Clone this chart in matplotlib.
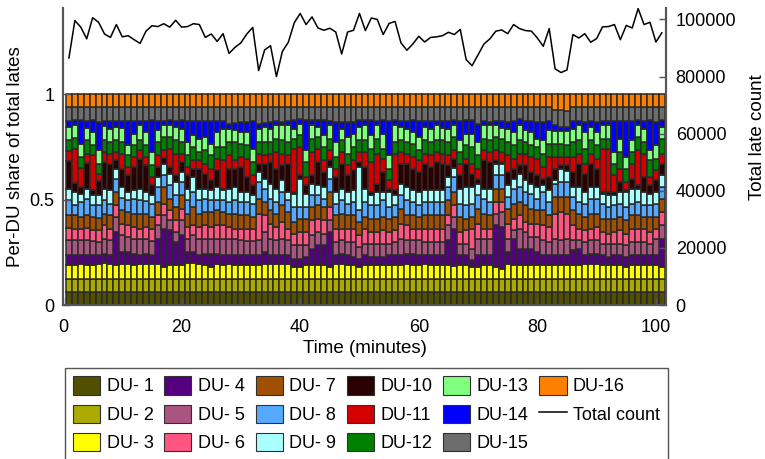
import numpy as np
import matplotlib
matplotlib.use("Agg")
import matplotlib.pyplot as plt
from matplotlib.patches import Patch
from matplotlib.lines import Line2D

plt.rcParams["font.family"] = ["Liberation Sans", "DejaVu Sans"]

minutes = list(range(1, 102))

# per-DU share of lates (relative units, normalised per minute below)
du1 = [39] * 101
du2 = [40] * 101
du3 = [42, 42, 45, 42, 42, 45, 48, 45, 42, 45, 45, 42, 45, 45, 45, 45, 35, 40, 40, 40,
       48, 48, 45, 40, 35, 45, 42, 45, 42, 40, 40, 40, 42, 45, 45, 45, 45, 45, 35, 35,
       40, 40, 42, 42, 35, 45, 45, 40, 40, 35, 40, 40, 40, 40, 40, 40, 40, 45, 40, 40,
       45, 40, 42, 42, 40, 38, 40, 40, 35, 35, 42, 42, 35, 30, 45, 40, 40, 40, 40, 40,
       40, 42, 42, 42, 40, 40, 40, 45, 45, 45, 40, 40, 40, 40, 35, 40, 40, 40, 40, 40, 35]
du4 = [30, 28, 27, 28, 28, 25, 27, 25, 98, 35, 35, 33, 27, 30, 25, 75, 115, 105, 70, 90,
       32, 32, 25, 35, 40, 30, 28, 25, 28, 30, 30, 30, 28, 35, 25, 25, 25, 25, 25, 25,
       25, 50, 58, 58, 105, 25, 30, 30, 25, 25, 30, 25, 25, 25, 30, 30, 30, 30, 35, 30,
       25, 30, 28, 28, 75, 112, 30, 30, 20, 35, 28, 28, 125, 125, 35, 80, 50, 50, 50, 40,
       30, 28, 28, 28, 30, 45, 50, 25, 30, 30, 30, 25, 30, 30, 30, 30, 30, 30, 30, 30, 85]
du5 = [45, 45, 43, 45, 42, 40, 45, 45, 45, 50, 45, 45, 48, 45, 42, 40, 40, 30, 30, 45,
       40, 50, 50, 45, 45, 45, 50, 50, 50, 45, 42, 42, 45, 60, 50, 45, 50, 45, 40, 40,
       35, 40, 40, 35, 35, 40, 40, 40, 45, 35, 35, 40, 40, 40, 35, 40, 50, 40, 40, 45,
       40, 40, 40, 40, 45, 35, 35, 35, 35, 50, 50, 50, 35, 45, 40, 25, 60, 50, 35, 45,
       45, 40, 50, 45, 50, 30, 25, 40, 40, 40, 35, 40, 35, 35, 35, 40, 40, 40, 35, 50, 40]
du6 = [35, 35, 35, 37, 33, 35, 40, 35, 35, 35, 35, 35, 30, 35, 36, 30, 35, 30, 35, 35,
       35, 30, 35, 40, 35, 40, 40, 35, 30, 35, 38, 38, 80, 50, 45, 40, 50, 35, 35, 40,
       40, 45, 40, 40, 40, 40, 35, 40, 40, 35, 45, 35, 35, 40, 35, 35, 45, 45, 35, 35,
       40, 40, 40, 40, 30, 35, 35, 40, 60, 45, 30, 30, 35, 30, 45, 35, 40, 30, 40, 40,
       45, 45, 75, 85, 75, 45, 35, 35, 35, 40, 35, 30, 35, 40, 35, 40, 40, 40, 35, 30, 40]
du7 = [40, 40, 35, 40, 40, 37, 35, 42, 40, 40, 40, 40, 45, 40, 37, 40, 50, 35, 40, 40,
       40, 55, 40, 40, 45, 45, 40, 40, 45, 40, 42, 35, 45, 40, 40, 40, 50, 50, 35, 40,
       40, 40, 40, 40, 45, 40, 45, 40, 42, 40, 35, 40, 40, 40, 40, 40, 45, 30, 40, 35,
       40, 40, 40, 40, 45, 40, 45, 35, 35, 45, 45, 40, 40, 40, 45, 45, 40, 50, 45, 40,
       45, 35, 50, 45, 50, 45, 45, 40, 45, 40, 40, 45, 40, 40, 40, 40, 40, 35, 45, 35, 40]
du8 = [43, 32, 45, 48, 35, 38, 40, 33, 40, 37, 35, 45, 40, 37, 40, 45, 35, 40, 35, 40,
       40, 45, 40, 40, 35, 30, 35, 35, 40, 40, 38, 40, 50, 40, 35, 35, 40, 35, 45, 35,
       35, 35, 30, 25, 40, 35, 40, 35, 38, 35, 45, 40, 40, 50, 35, 35, 40, 45, 40, 35,
       40, 40, 40, 40, 40, 45, 40, 40, 40, 40, 45, 40, 40, 40, 35, 45, 45, 40, 45, 35,
       55, 40, 40, 45, 45, 40, 35, 40, 45, 45, 45, 35, 40, 40, 40, 35, 40, 35, 35, 40, 35]
du9 = [35, 38, 25, 30, 30, 30, 35, 40, 30, 33, 25, 25, 35, 28, 25, 30, 35, 35, 40, 30,
       35, 45, 35, 30, 30, 40, 30, 40, 40, 30, 30, 25, 30, 30, 45, 40, 35, 25, 40, 85,
       40, 35, 30, 35, 35, 35, 35, 35, 35, 130, 40, 30, 40, 25, 45, 30, 35, 40, 35, 40,
       35, 35, 35, 35, 30, 27, 45, 55, 50, 35, 30, 40, 35, 35, 35, 30, 40, 35, 30, 35,
       20, 35, 10, 40, 32, 30, 45, 35, 35, 35, 30, 35, 30, 35, 45, 45, 40, 40, 35, 35, 35]
du10 = [82, 28, 20, 78, 15, 42, 80, 80, 25, 55, 50, 70, 90, 80, 30, 30, 17, 20, 20, 30,
        40, 25, 60, 45, 30, 50, 5, 58, 55, 75, 45, 30, 25, 45, 65, 60, 45, 85, 5, 10,
        25, 25, 70, 45, 20, 45, 75, 50, 60, 15, 65, 10, 25, 60, 10, 15, 60, 70, 65, 60,
        80, 70, 85, 80, 35, 28, 40, 70, 40, 15, 85, 80, 10, 5, 40, 30, 25, 45, 35, 35,
        20, 40, 35, 10, 18, 45, 70, 55, 70, 55, 5, 10, 10, 30, 5, 30, 10, 45, 25, 35, 35]
du11 = [30, 102, 57, 27, 105, 23, 30, 30, 25, 45, 25, 30, 25, 25, 25, 35, 23, 55, 65, 25,
        25, 25, 25, 30, 35, 35, 85, 42, 25, 30, 55, 30, 30, 25, 25, 50, 35, 25, 130, 85,
        25, 70, 40, 35, 30, 25, 35, 30, 30, 30, 45, 90, 90, 40, 25, 110, 35, 30, 35, 35,
        30, 35, 30, 30, 30, 25, 35, 15, 30, 30, 30, 30, 30, 30, 50, 30, 35, 35, 45, 50,
        35, 60, 35, 25, 25, 45, 30, 30, 30, 30, 130, 130, 50, 40, 25, 45, 105, 70, 25, 30, 30]
du12 = [33, 32, 33, 40, 30, 30, 35, 35, 35, 35, 35, 35, 30, 35, 37, 40, 40, 35, 40, 35,
        35, 40, 25, 40, 40, 35, 40, 40, 55, 40, 40, 40, 35, 40, 35, 40, 40, 40, 30, 35,
        45, 40, 35, 40, 35, 35, 35, 35, 40, 35, 35, 40, 45, 30, 35, 35, 35, 35, 40, 30,
        40, 40, 35, 40, 40, 40, 35, 40, 50, 40, 35, 35, 40, 40, 40, 40, 40, 35, 35, 35,
        40, 40, 40, 40, 37, 45, 40, 45, 40, 40, 30, 30, 35, 50, 40, 35, 40, 35, 50, 35, 45]
du13 = [40, 38, 40, 37, 40, 40, 42, 40, 40, 42, 30, 35, 45, 40, 38, 35, 35, 35, 40, 40,
        40, 35, 40, 40, 35, 45, 55, 40, 35, 35, 40, 40, 40, 45, 40, 40, 45, 50, 30, 35,
        35, 40, 30, 35, 40, 45, 35, 50, 40, 40, 45, 40, 40, 45, 40, 50, 40, 40, 35, 40,
        40, 40, 45, 37, 40, 35, 35, 35, 40, 40, 40, 45, 35, 32, 40, 40, 45, 35, 40, 25,
        40, 40, 37, 37, 40, 40, 45, 50, 40, 40, 40, 40, 35, 40, 35, 35, 35, 40, 30, 40, 35]
du14 = [17, 15, 70, 20, 35, 85, 15, 22, 17, 20, 72, 37, 12, 32, 95, 27, 12, 15, 17, 25,
        62, 42, 52, 47, 67, 32, 22, 15, 22, 30, 30, 82, 15, 12, 20, 12, 10, 12, 25, 15,
        90, 15, 20, 45, 12, 60, 20, 45, 35, 20, 15, 45, 12, 40, 102, 15, 17, 22, 35, 47,
        17, 22, 12, 20, 22, 15, 57, 40, 40, 55, 12, 10, 12, 20, 20, 32, 20, 27, 32, 50,
        55, 27, 18, 13, 13, 22, 12, 30, 17, 30, 12, 12, 92, 52, 107, 57, 15, 22, 90, 70, 20]
du15 = [43, 40, 40, 43, 40, 45, 43, 43, 43, 43, 43, 43, 43, 43, 40, 43, 43, 40, 43, 40,
        43, 43, 43, 43, 43, 43, 43, 50, 48, 45, 45, 43, 50, 48, 45, 43, 45, 43, 40, 35,
        40, 40, 40, 40, 43, 45, 45, 45, 45, 40, 40, 40, 43, 40, 43, 40, 43, 43, 40, 43,
        43, 43, 43, 43, 43, 40, 43, 40, 40, 50, 43, 45, 43, 43, 45, 43, 35, 43, 43, 45,
        45, 43, 45, 50, 47, 43, 43, 45, 43, 45, 43, 43, 43, 43, 43, 43, 40, 43, 40, 45, 40]
du16 = [39] * 82 + [49, 49, 52] + [39] * 16

total_count = [86500, 99600, 97300, 93200, 100600, 99000, 94900, 93700, 98200, 93900,
               94300, 92900, 91600, 95900, 97800, 97500, 98500, 97300, 99700, 97300,
               97500, 98500, 98200, 93700, 94900, 92300, 95000, 88100, 90200, 91800,
               94900, 97200, 82100, 89300, 90800, 80000, 88800, 92000, 98800, 102100,
               98200, 100900, 97000, 96200, 96900, 95600, 87900, 95600, 96200, 102100,
               96100, 100500, 100000, 94700, 98600, 99300, 91800, 89200, 91400, 94100,
               92100, 93700, 93900, 94300, 95500, 94700, 96500, 85900, 83800, 87600,
               91400, 93200, 95900, 96300, 95000, 98200, 96800, 96100, 95900, 93500,
               90600, 96800, 82700, 81400, 82300, 94700, 93500, 95000, 92000, 93300,
               97400, 97500, 98200, 92900, 97900, 97000, 103800, 98200, 99000, 92100, 95300]

du_labels = ["DU- %d" % i if i < 10 else "DU-%d" % i for i in range(1, 17)]
du_colors = ["#505000", "#aaaa00", "#ffff00", "#550080", "#aa5580", "#ff5580",
             "#a05000", "#55aaff", "#aaffff", "#2b0000", "#d40000", "#008000",
             "#80ff80", "#0000ff", "#6d6d6d", "#ff8000"]

raw = np.array([du1, du2, du3, du4, du5, du6, du7, du8, du9, du10,
                du11, du12, du13, du14, du15, du16], dtype=float)
share = raw / raw.sum(axis=0)

fig = plt.figure(figsize=(7.65, 4.59), dpi=100)
ax = fig.add_axes([63 / 765, 1 - 305 / 459, 603 / 765, 297 / 459])

bottom = np.zeros(len(minutes))
for k in range(16):
    ax.bar(minutes, share[k], 1.0, bottom=bottom, color=du_colors[k],
           edgecolor="#2a2a2a", linewidth=1.1)
    bottom += share[k]

ax.set_xlim(0, 101.7)
ax.set_ylim(0, 1.4076)
ax.set_xticks([0, 20, 40, 60, 80, 100])
ax.set_yticks([0, 0.5, 1])
ax.set_yticklabels(["0", "0.5", "1"])
ax.set_xlabel("Time (minutes)", fontsize=13.5, labelpad=3)
ax.set_ylabel("Per-DU share of total lates", fontsize=13.5, labelpad=4)

ax2 = ax.twinx()
ax2.plot(minutes, total_count, color="black", linewidth=1.1)
ax2.set_ylim(0, 104000)
ax2.set_yticks([0, 20000, 40000, 60000, 80000, 100000])
ax2.set_ylabel("Total late count", fontsize=13.5)
ax2.yaxis.set_label_coords(1.137, 0.565)

for a in (ax, ax2):
    a.tick_params(direction="in", length=5, width=1, labelsize=13, color="#555555")
    a.spines["top"].set_visible(False)
    for s in ("left", "right", "bottom"):
        a.spines[s].set_color("#555555")
        a.spines[s].set_linewidth(1.5)
ax.tick_params(axis="x", pad=10)
ax.tick_params(axis="y", pad=6)
ax2.tick_params(axis="y", pad=7)

handles = [Patch(facecolor=c, edgecolor="#303030", linewidth=0.8) for c in du_colors]
handles.append(Line2D([0], [0], color="black", linewidth=1.1))
labels = du_labels + ["Total count"]
fig.legend(handles, labels, ncol=6, loc="upper left",
           bbox_to_anchor=(65 / 765, 1 - 368 / 459, 603 / 765, 0), mode="expand",
           fontsize=13, handlelength=1.5, handleheight=1.2, handletextpad=0.35,
           labelspacing=0.5, borderpad=0.45, borderaxespad=0,
           frameon=True, fancybox=False, edgecolor="#555555", framealpha=1)

fig.savefig("out.png", dpi=100)
